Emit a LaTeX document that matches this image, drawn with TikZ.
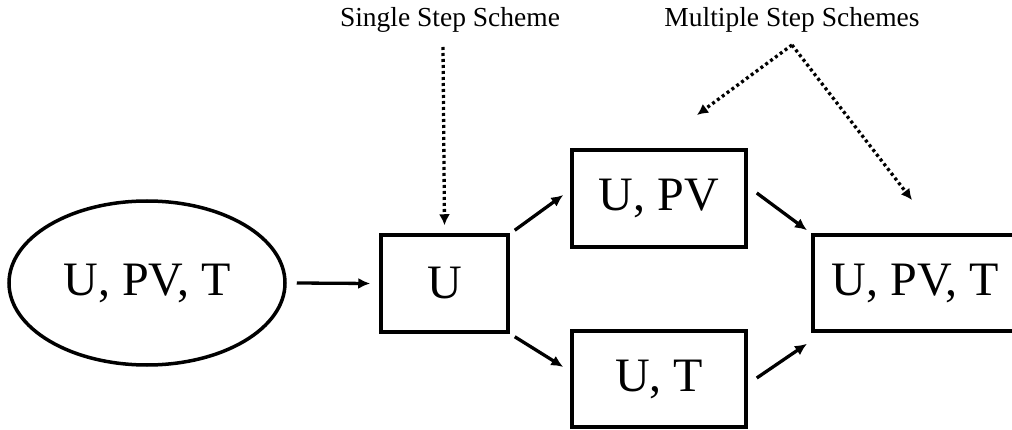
\documentclass[tikz,border=0pt]{standalone}
\usepackage{fontspec}
\setmainfont{Liberation Serif}
\usetikzlibrary{shapes.geometric,arrows.meta}
\begin{document}
\begin{tikzpicture}[x=1pt,y=-1pt,
  box/.style={draw,line width=3.5pt,inner sep=0pt,font=\fontsize{48}{52}\selectfont},
  caption/.style={inner sep=0pt,font=\fontsize{27.5}{30}\selectfont},
  flow/.style={line width=3.3pt,-{Latex[length=12pt,width=11pt]}},
  hint/.style={line width=3.3pt,dash pattern=on 3pt off 3pt,-{Latex[length=11pt,width=11pt]}}]
\useasboundingbox (0,0) rectangle (1012,430);

% states
\node[box,ellipse,minimum width=276pt,minimum height=164pt] (all) at (147,283) {U, PV, T};
\node[box,minimum width=127pt,minimum height=97pt] (u) at (444.5,283.5) {U};
\node[box,minimum width=174pt,minimum height=97pt] (upv) at (659,198.5) {U, PV};
\node[box,minimum width=174pt,minimum height=96pt] (ut) at (659,379) {U, T};
\node[box,anchor=west,minimum width=205pt,minimum height=96pt] (upvt) at (811,283) {U, PV, T};

% captions
\node[caption] (single) at (450,20) {Single Step Scheme};
\node[caption] (multi) at (792,20) {Multiple Step Schemes};
\coordinate (singlefrom) at (443,47);
\coordinate (multifrom) at (792,45);
\coordinate (multileft) at (697,115);
\coordinate (multiright) at (912,200);

% solid transitions
\draw[flow] ([xshift=10pt]all.east) -- ([xshift=-9pt]u.west);
\draw[flow] ([xshift=5pt,yshift=3pt]u.north east) -- ([xshift=-7pt,yshift=3.5pt]upv.west);
\draw[flow] ([xshift=5pt,yshift=-3pt]u.south east) -- ([xshift=-7pt,yshift=12pt]ut.west);
\draw[flow] ([xshift=9pt,yshift=5.5pt]upv.east) -- ([xshift=-4pt,yshift=3pt]upvt.north west);
\draw[flow] ([xshift=9pt,yshift=1pt]ut.east) -- ([xshift=-4pt,yshift=-11pt]upvt.south west);

% dotted pointers from captions
\draw[hint] (singlefrom) -- ([yshift=8pt]u.north);
\draw[hint] (multifrom) -- (multileft);
\draw[hint] (multifrom) -- (multiright);
\end{tikzpicture}
\end{document}
